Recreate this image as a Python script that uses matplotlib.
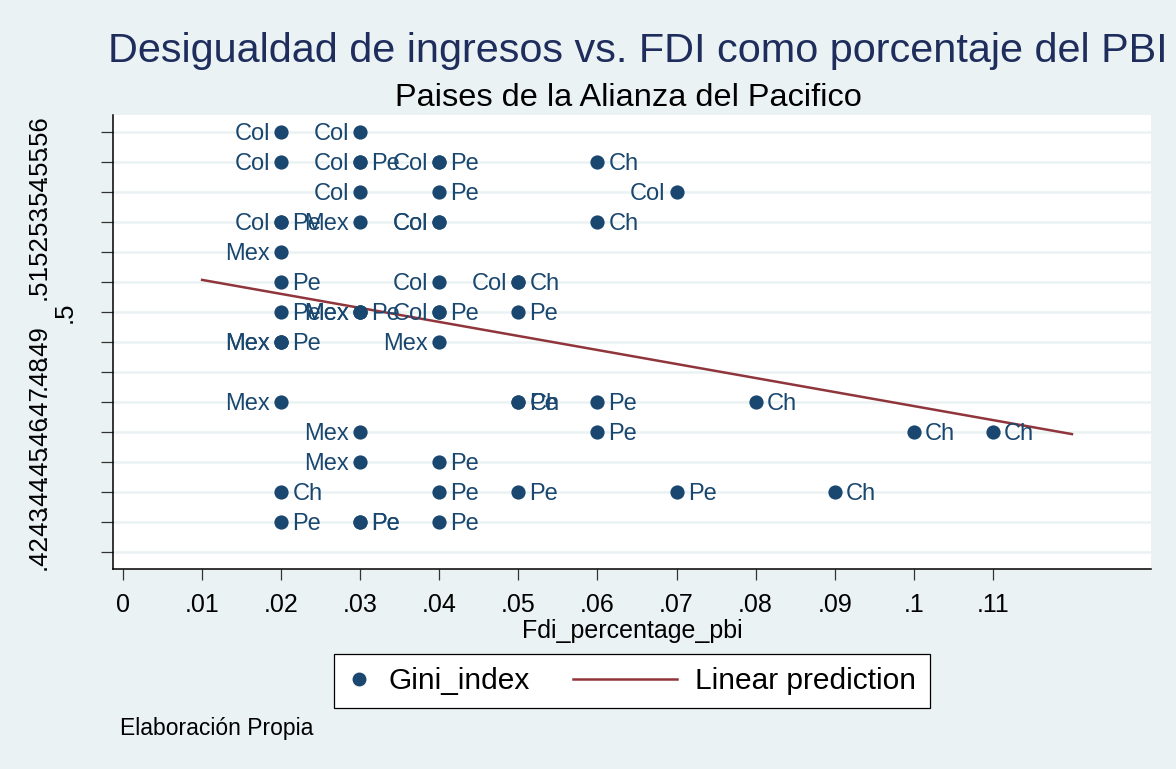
import matplotlib
matplotlib.use("Agg")
import matplotlib.pyplot as plt
from matplotlib.lines import Line2D
from matplotlib.legend_handler import HandlerBase

plt.rcParams['font.family'] = ['Liberation Sans', 'DejaVu Sans']

# ---- data ----
col_x = [.02, .03, .02, .03, .04, .03, .07, .02, .04, .04, .04, .05, .04]
col_y = [.56, .56, .55, .55, .55, .54, .54, .53, .53, .53, .51, .51, .50]

mex_x = [.03, .02, .03, .03, .02, .02, .04, .02, .03, .03]
mex_y = [.53, .52, .50, .50, .49, .49, .49, .47, .46, .45]

pe_x = [.03, .04, .04, .02, .02, .02, .03, .04, .05, .02, .05, .06, .06, .04, .04, .05, .07, .02, .03, .03, .04]
pe_y = [.55, .55, .54, .53, .51, .50, .50, .50, .50, .49, .47, .47, .46, .45, .44, .44, .44, .43, .43, .43, .43]

ch_x = [.06, .06, .05, .05, .08, .10, .11, .02, .09]
ch_y = [.55, .53, .51, .47, .47, .46, .46, .44, .44]

pred_x = [0.01, 0.12]
pred_y = [0.5107, 0.4593]

xticks = [0, .01, .02, .03, .04, .05, .06, .07, .08, .09, .10, .11]
xtick_labels = ['0', '.01', '.02', '.03', '.04', '.05', '.06', '.07', '.08', '.09', '.1', '.11']
yticks = [.42, .43, .44, .45, .46, .47, .48, .49, .50, .51, .52, .53, .54, .55, .56]
ytick_labels = ['.42', '.43', '.44', '.45', '.46', '.47', '.48', '.49', '.5',
                '.51', '.52', '.53', '.54', '.55', '.56']

# ---- style ----
BG = '#EAF2F3'
NAVY = '#1A476F'
LINE = '#90353B'

fig = plt.figure(figsize=(11.76, 7.69), dpi=100, facecolor=BG)
ax = fig.add_axes([113/1176, 1 - 569/769, (1151 - 113)/1176, (569 - 115)/769])
ax.set_facecolor('white')

ax.set_xlim(-0.00127, 0.1300)
ax.set_ylim(0.41433, 0.56567)

for y in yticks:
    ax.axhline(y, color=BG, lw=1.8, zorder=0)

all_x = col_x + mex_x + pe_x + ch_x
all_y = col_y + mex_y + pe_y + ch_y
ax.scatter(all_x, all_y, s=105, color=NAVY, zorder=3, linewidths=0)

def lab(xs, ys, text, side):
    for x, y in zip(xs, ys):
        if side == 'left':
            ax.annotate(text, (x, y), xytext=(-8, -1.5), textcoords='offset points',
                        ha='right', va='center', fontsize=17, color=NAVY, zorder=4)
        else:
            ax.annotate(text, (x, y), xytext=(8, -1.5), textcoords='offset points',
                        ha='left', va='center', fontsize=17, color=NAVY, zorder=4)

lab(col_x, col_y, 'Col', 'left')
lab(mex_x, mex_y, 'Mex', 'left')
lab(pe_x, pe_y, 'Pe', 'right')
lab(ch_x, ch_y, 'Ch', 'right')

ax.plot(pred_x, pred_y, color=LINE, lw=1.8, zorder=2)

for s in ['top', 'right']:
    ax.spines[s].set_visible(False)
for s in ['left', 'bottom']:
    ax.spines[s].set_color('black')
    ax.spines[s].set_linewidth(1.1)

ax.set_xticks(xticks, xtick_labels)
ax.set_yticks(yticks, ytick_labels)
ax.tick_params(axis='x', length=8, width=0.9, color='#333333', pad=9, labelsize=18)
ax.tick_params(axis='y', length=9, width=0.9, color='#333333', pad=36, labelsize=18.5,
               labelrotation=90)
for t in ax.get_yticklabels():
    t.set_va('center')
ticks = ax.yaxis.get_major_ticks()
ticks[8].set_pad(17)

ax.set_xlabel('Fdi_percentage_pbi', fontsize=18, labelpad=2)

fig.text(638/1176, 1 - 51/769, 'Desigualdad de ingresos vs. FDI como porcentaje del PBI',
         ha='center', va='center', fontsize=29.8, color='#1E2D5C')
fig.text(628/1176, 1 - 98/769, 'Paises de la Alianza del Pacifico',
         ha='center', va='center', fontsize=23.4, color='black')


class LongLineHandler(HandlerBase):
    """Line handle that extends to the left of its (short) handle box."""
    def create_artists(self, legend, orig_handle, xdescent, ydescent, width, height,
                       fontsize, trans):
        yc = height / 2 - ydescent
        x1 = width - xdescent
        x0 = x1 - 75
        ln = Line2D([x0, x1], [yc, yc], color=orig_handle.get_color(),
                    lw=orig_handle.get_linewidth())
        ln.set_transform(trans)
        return [ln]


class MarkerHandler(HandlerBase):
    def create_artists(self, legend, orig_handle, xdescent, ydescent, width, height,
                       fontsize, trans):
        yc = height / 2 - ydescent
        xc = width / 2 - xdescent
        mk = Line2D([xc], [yc], marker='o', ls='none', color=orig_handle.get_color(),
                    markersize=orig_handle.get_markersize())
        mk.set_transform(trans)
        return [mk]


h_pts = Line2D([], [], marker='o', ls='none', color=NAVY, markersize=9)
h_line = Line2D([], [], color=LINE, lw=1.8)
leg = fig.legend([h_pts, h_line], ['Gini_index', 'Linear prediction'], loc='center',
                 bbox_to_anchor=(632/1176, 1 - 681/769), ncol=2, fontsize=21.5,
                 frameon=True, fancybox=False, edgecolor='black', facecolor='white',
                 framealpha=1, handlelength=0.75, columnspacing=4.2, handletextpad=0.6,
                 borderpad=0.45, borderaxespad=0,
                 handler_map={h_pts: MarkerHandler(), h_line: LongLineHandler()})
leg.get_frame().set_linewidth(0.9)

fig.text(120/1176, 1 - 728/769, 'Elaboración Propia', ha='left', va='center',
         fontsize=16.5, color='black')

fig.savefig('out.png', dpi=100, facecolor=BG)
